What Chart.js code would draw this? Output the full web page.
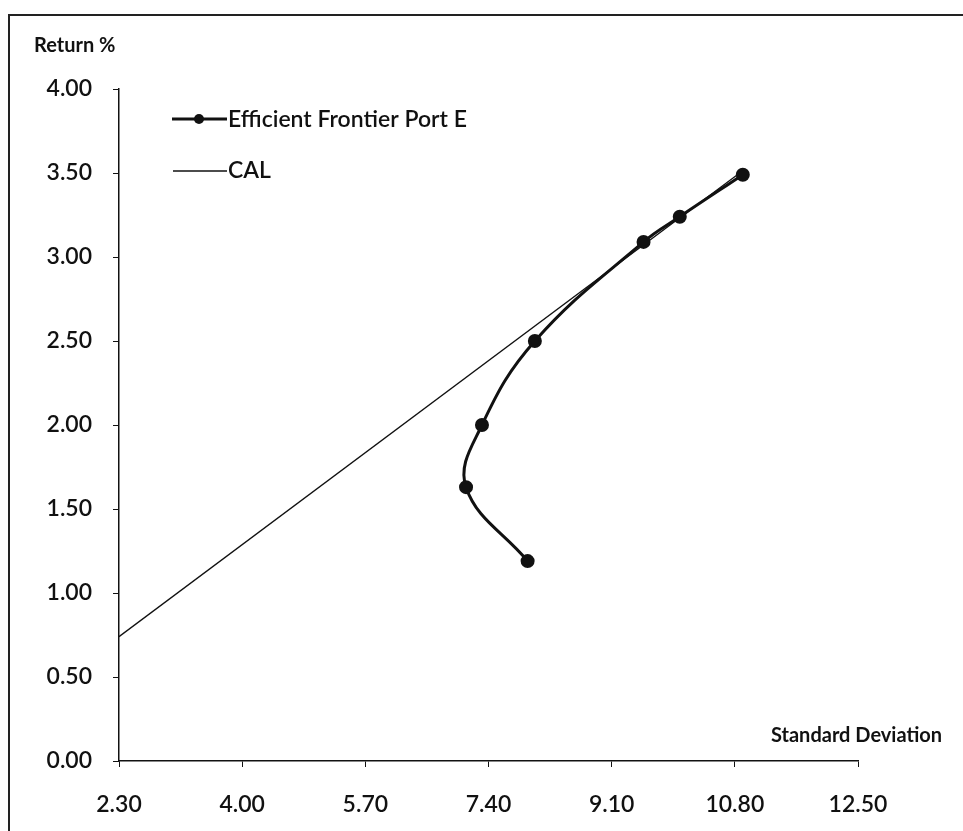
<!DOCTYPE html>
<html>
<head>
<meta charset="utf-8">
<script src="https://cdn.jsdelivr.net/npm/chart.js@4.4.1/dist/chart.umd.min.js"></script>
<style>
  html, body { margin: 0; padding: 0; background: #fff; }
  #wrap { position: relative; width: 963px; height: 831px; }
  #frame { position: absolute; left: 8px; top: 14px; width: 960px; height: 830px;
           border-top: 2px solid #222; border-left: 2px solid #222; pointer-events: none; }
</style>
</head>
<body>
<div id="wrap">
  <canvas id="chart" width="963" height="831"></canvas>
  <div id="frame"></div>
</div>
<script>
// Efficient frontier points (std dev %, return %)
const frontierSd = [7.94, 7.09, 7.31, 8.04, 9.54, 10.04, 10.91];
const frontierRet = [1.19, 1.63, 2.00, 2.50, 3.09, 3.24, 3.49];

// Capital allocation line end points
const calSd = [2.30, 10.90];
const calRet = [0.74, 3.51];

const xTicks = [2.30, 4.00, 5.70, 7.40, 9.10, 10.80, 12.50];
const yTicks = [0, 0.5, 1, 1.5, 2, 2.5, 3, 3.5, 4];

const fontFamily = 'Lato, "Open Sans", sans-serif';

const toPoints = (xs, ys) => xs.map((x, i) => ({ x: x, y: ys[i] }));

// axis titles and legend drawn in the chart's own spots
const extras = {
    id: 'extras',
    afterDraw(chart) {
        const c = chart.ctx;
        c.save();
        c.fillStyle = '#111';
        c.textBaseline = 'middle';
        c.textAlign = 'left';
        c.font = 'bold 20px ' + fontFamily;
        c.fillText('Return %', 34, 46);
        c.fillText('Standard Deviation', 771, 736);

        // legend
        c.font = '600 23px ' + fontFamily;
        c.strokeStyle = '#111';
        c.lineWidth = 3;
        c.beginPath();
        c.moveTo(172, 119);
        c.lineTo(227, 119);
        c.stroke();
        c.beginPath();
        c.arc(199, 119, 5, 0, Math.PI * 2);
        c.fill();
        c.fillText(chart.data.datasets[0].label, 228, 120);

        c.lineWidth = 1.3;
        c.beginPath();
        c.moveTo(173, 171);
        c.lineTo(227, 171);
        c.stroke();
        c.fillText(chart.data.datasets[1].label, 228, 171);
        c.restore();
    }
};

new Chart(document.getElementById('chart').getContext('2d'), {
    type: 'scatter',
    data: {
        datasets: [
            {
                label: 'Efficient Frontier Port E',
                data: toPoints(frontierSd, frontierRet),
                showLine: true,
                tension: 0.4,
                borderColor: '#111',
                backgroundColor: '#111',
                borderWidth: 3,
                pointRadius: 5.5,
                pointHoverRadius: 5.5
            },
            {
                label: 'CAL',
                data: toPoints(calSd, calRet),
                showLine: true,
                borderColor: '#111',
                borderWidth: 1.3,
                pointRadius: 0
            }
        ]
    },
    options: {
        responsive: false,
        animation: false,
        layout: { padding: { top: 89, right: 105, left: 0, bottom: 0 } },
        plugins: {
            legend: { display: false },
            tooltip: { enabled: false }
        },
        scales: {
            x: {
                type: 'linear',
                min: 2.3,
                max: 12.5,
                afterFit: (s) => { s.height = 70; },
                afterBuildTicks: (s) => { s.ticks = xTicks.map(v => ({ value: v })); },
                border: { color: '#111', width: 1.5 },
                grid: { drawOnChartArea: false, color: '#111', tickLength: 6 },
                ticks: {
                    color: '#111',
                    padding: 24,
                    font: { family: fontFamily, size: 23, weight: '600' },
                    callback: (v) => Number(v).toFixed(2)
                }
            },
            y: {
                type: 'linear',
                min: 0,
                max: 4,
                afterFit: (s) => { s.width = 119; },
                afterBuildTicks: (s) => { s.ticks = yTicks.map(v => ({ value: v })); },
                border: { color: '#111', width: 1.5 },
                grid: { drawOnChartArea: false, color: '#111', tickLength: 6 },
                ticks: {
                    color: '#111',
                    padding: 21,
                    font: { family: fontFamily, size: 23, weight: '600' },
                    callback: (v) => Number(v).toFixed(2)
                }
            }
        }
    },
    plugins: [extras]
});
</script>
</body>
</html>
